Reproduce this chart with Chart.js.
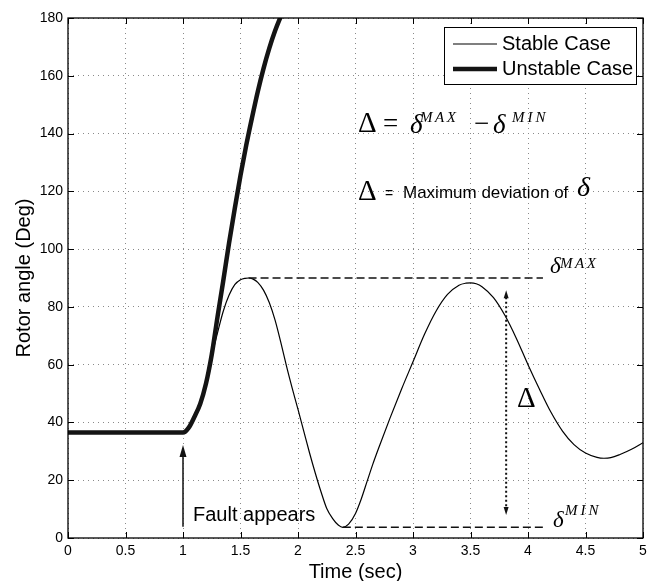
<!DOCTYPE html>
<html>
<head>
<meta charset="utf-8">
<script src="https://cdn.jsdelivr.net/npm/chart.js@4/dist/chart.umd.min.js"></script>
<style>
  html, body { margin: 0; padding: 0; background: #fff; }
  #wrap { width: 654px; height: 581px; }
</style>
</head>
<body>
<div id="wrap"><canvas id="c" width="654" height="581"></canvas></div>
<script>
// ---- data ----
const seriesNames = ['Stable Case', 'Unstable Case'];

const timeStable = [0, 0.5, 1.0, 1.05, 1.1, 1.15, 1.2, 1.25, 1.3, 1.35, 1.4, 1.45, 1.5, 1.54, 1.57,
  1.61, 1.65, 1.7, 1.75, 1.8, 1.85, 1.9, 1.95, 2.0, 2.05, 2.1, 2.15, 2.2, 2.25, 2.3, 2.35, 2.39,
  2.44, 2.5, 2.55, 2.6, 2.65, 2.7, 2.8, 2.9, 3.0, 3.1, 3.2, 3.3, 3.4, 3.46, 3.5, 3.55, 3.6, 3.7, 3.8,
  3.9, 4.0, 4.1, 4.2, 4.3, 4.4, 4.5, 4.6, 4.66, 4.72, 4.8, 4.9, 5.0];
const angleStable = [36.5, 36.5, 36.5, 38.2, 42, 46.5, 54, 63, 71, 78.5, 84, 87.7, 89.4, 89.9, 90,
  89.6, 88.5, 85.8, 81.5, 75.5, 67.8, 59.5, 51.8, 44.5, 37, 29.5, 22.5, 16, 10.2, 6.8, 4.5, 3.7,
  4.8, 8.5, 13.5, 19.5, 25.5, 31, 41.5, 51.5, 61, 70.5, 78.5, 84.3, 87.5, 88.2, 88.3, 88, 87, 83.2, 77,
  69, 60, 51.5, 43.5, 37, 32.3, 29.4, 27.9, 27.6, 27.8, 28.9, 30.7, 33];

const timeUnstable = [0, 0.5, 1.0, 1.05, 1.1, 1.15, 1.2, 1.25, 1.3, 1.35, 1.4, 1.45, 1.5,
  1.55, 1.6, 1.65, 1.7, 1.75, 1.8, 1.85, 1.9];
const angleUnstable = [36.5, 36.5, 36.5, 38.2, 42, 46.5, 53.5, 63.5, 76.5, 89, 102, 114, 125.5,
  136, 145.5, 154.5, 162.5, 169.5, 175.5, 180.5, 185];

const xTicks = [0, 0.5, 1, 1.5, 2, 2.5, 3, 3.5, 4, 4.5, 5];
const yTicks = [0, 20, 40, 60, 80, 100, 120, 140, 160, 180];

// annotation values (data coordinates)
const deltaMax = 90, deltaMaxT = [1.57, 4.13];
const deltaMin = 3.7, deltaMinT = [2.39, 4.16];
const spanT = 3.81, spanRange = [8, 85.8];
const faultT = 1.0, faultRange = [3.9, 32.2];

const toXY = (xs, ys) => xs.map((x, i) => ({ x: x, y: ys[i] }));

const SANS = '"Liberation Sans", Arial, Helvetica, sans-serif';
const SERIF = '"Liberation Serif", "Times New Roman", serif';

const frameAndAnnotations = {
  id: 'frameAndAnnotations',
  afterDatasetsDraw(chart) {
    const { ctx, chartArea: a, scales: { x, y } } = chart;
    const X = v => x.getPixelForValue(v), Y = v => y.getPixelForValue(v);
    ctx.save();

    // frame
    ctx.strokeStyle = '#000';
    ctx.lineWidth = 1.3;
    ctx.strokeRect(a.left, a.top, a.right - a.left, a.bottom - a.top);
    // inward ticks on all four sides
    ctx.lineWidth = 1;
    const tl = 6;
    ctx.beginPath();
    xTicks.forEach(v => {
      const px = Math.round(X(v)) + 0.5;
      ctx.moveTo(px, a.bottom); ctx.lineTo(px, a.bottom - tl);
      ctx.moveTo(px, a.top); ctx.lineTo(px, a.top + tl);
    });
    yTicks.forEach(v => {
      const py = Math.round(Y(v)) + 0.5;
      ctx.moveTo(a.left, py); ctx.lineTo(a.left + tl, py);
      ctx.moveTo(a.right, py); ctx.lineTo(a.right - tl, py);
    });
    ctx.stroke();

    // dashed delta max / min lines
    ctx.strokeStyle = '#111';
    ctx.lineWidth = 1.5;
    ctx.setLineDash([8, 4]);
    ctx.beginPath();
    ctx.moveTo(X(deltaMaxT[0]), Y(deltaMax)); ctx.lineTo(X(deltaMaxT[1]), Y(deltaMax));
    ctx.moveTo(X(deltaMinT[0]), Y(deltaMin)); ctx.lineTo(X(deltaMinT[1]), Y(deltaMin));
    ctx.stroke();

    // dotted double arrow
    ctx.setLineDash([2, 2.5]);
    ctx.lineWidth = 2;
    const ax = X(spanT), ayTop = Y(spanRange[1]), ayBot = Y(spanRange[0]);
    ctx.beginPath();
    ctx.moveTo(ax, ayTop + 7); ctx.lineTo(ax, ayBot - 7);
    ctx.stroke();
    ctx.setLineDash([]);
    ctx.fillStyle = '#111';
    const head = (px, py, dir, w, h) => {
      ctx.beginPath();
      ctx.moveTo(px, py);
      ctx.lineTo(px - w / 2, py + dir * h);
      ctx.lineTo(px + w / 2, py + dir * h);
      ctx.closePath();
      ctx.fill();
    };
    head(ax, ayTop, 1, 5, 8);
    head(ax, ayBot, -1, 5, 8);

    // fault arrow
    const fx = X(faultT);
    ctx.lineWidth = 1.5;
    ctx.beginPath();
    ctx.moveTo(fx, Y(faultRange[0])); ctx.lineTo(fx, Y(faultRange[1]) + 10);
    ctx.stroke();
    head(fx, Y(faultRange[1]), 1, 7, 12);

    // texts
    ctx.fillStyle = '#000';
    ctx.textBaseline = 'alphabetic';
    ctx.textAlign = 'left';
    const txt = (s, t, v, font, spacing) => {
      ctx.font = font;
      ctx.letterSpacing = spacing || '0px';
      ctx.fillText(s, X(t), Y(v));
      ctx.letterSpacing = '0px';
    };
    txt('Fault appears', 1.087, 6.0, '20px ' + SANS);

    // Δ = δ^MAX − δ^MIN
    txt('\u0394', 2.522, 140.6, '29px ' + SERIF);
    txt('=', 2.74, 140.6, '27px ' + SERIF);
    txt('\u03B4', 2.974, 140.2, 'italic 27px ' + SERIF);
    txt('MAX', 3.061, 144.0, 'italic 15px ' + SERIF, '2.5px');
    txt('\u2212', 3.53, 140.6, '27px ' + SERIF);
    txt('\u03B4', 3.696, 140.2, 'italic 27px ' + SERIF);
    txt('MIN', 3.861, 144.0, 'italic 15px ' + SERIF, '3px');

    // Δ = Maximum deviation of δ
    txt('\u0394', 2.522, 117.0, '29px ' + SERIF);
    txt('=', 2.757, 117.7, '14px ' + SANS);
    txt('Maximum deviation of', 2.913, 117.7, '17px ' + SANS);
    txt('\u03B4', 4.426, 118.4, 'italic 28px ' + SERIF);

    // δ^MAX, δ^MIN, Δ labels
    txt('\u03B4', 4.191, 91.7, 'italic 23px ' + SERIF);
    txt('MAX', 4.278, 93.5, 'italic 15px ' + SERIF, '2.5px');
    txt('\u03B4', 4.217, 3.8, 'italic 23px ' + SERIF);
    txt('MIN', 4.322, 8.0, 'italic 15px ' + SERIF, '3px');
    txt('\u0394', 3.904, 45.3, '29px ' + SERIF);

    // legend box (top-right inside the plot)
    const lw = 192, lh = 57;
    const lx = a.right - 7 - lw, ly = a.top + 9;
    ctx.fillStyle = '#fff';
    ctx.fillRect(lx, ly, lw, lh);
    ctx.strokeStyle = '#000';
    ctx.lineWidth = 1;
    ctx.strokeRect(lx + 0.5, ly + 0.5, lw, lh);
    chart.data.datasets.forEach((ds, i) => {
      const cy = ly + 17 + i * 25;
      ctx.strokeStyle = ds.borderColor;
      ctx.lineWidth = ds.borderWidth;
      ctx.beginPath();
      ctx.moveTo(lx + 9, cy); ctx.lineTo(lx + 53, cy);
      ctx.stroke();
      ctx.fillStyle = '#000';
      ctx.font = '20px ' + SANS;
      ctx.textBaseline = 'middle';
      ctx.fillText(ds.label, lx + 58, cy);
    });
    ctx.restore();
  }
};

new Chart(document.getElementById('c'), {
  type: 'line',
  data: {
    datasets: [
      { label: seriesNames[0], data: toXY(timeStable, angleStable), borderColor: '#000',
        borderWidth: 1.2, pointRadius: 0, cubicInterpolationMode: 'monotone', order: 2 },
      { label: seriesNames[1], data: toXY(timeUnstable, angleUnstable), borderColor: '#141414',
        borderWidth: 4.5, pointRadius: 0, cubicInterpolationMode: 'monotone', order: 1 }
    ]
  },
  options: {
    responsive: false,
    animation: false,
    devicePixelRatio: 1,
    layout: { padding: { top: 18, right: 11, bottom: 0, left: 0 } },
    plugins: { legend: { display: false }, tooltip: { enabled: false } },
    scales: {
      x: {
        type: 'linear', min: 0, max: 5,
        afterBuildTicks: s => { s.ticks = xTicks.map(v => ({ value: v })); },
        afterFit: s => { s.height = 43; },
        ticks: { color: '#000', font: { family: SANS, size: 14 }, padding: 5, maxRotation: 0,
          callback: v => String(Number(v)) },
        grid: { color: '#8a8a8a', lineWidth: 1, drawTicks: false },
        border: { display: false, dash: [1, 4] },
        title: { display: true, text: 'Time (sec)', color: '#000',
          font: { family: SANS, size: 20 }, padding: { top: 0, bottom: -3 } }
      },
      y: {
        type: 'linear', min: 0, max: 180,
        afterBuildTicks: s => { s.ticks = yTicks.map(v => ({ value: v })); },
        afterFit: s => { s.width = 68; },
        ticks: { color: '#000', font: { family: SANS, size: 14 }, padding: 5,
          callback: v => String(Number(v)) },
        grid: { color: '#8a8a8a', lineWidth: 1, drawTicks: false },
        border: { display: false, dash: [1, 4] },
        title: { display: true, text: 'Rotor angle (Deg)', color: '#000',
          font: { family: SANS, size: 20 }, padding: { top: 12, bottom: 0 } }
      }
    }
  },
  plugins: [frameAndAnnotations]
});
</script>
</body>
</html>
